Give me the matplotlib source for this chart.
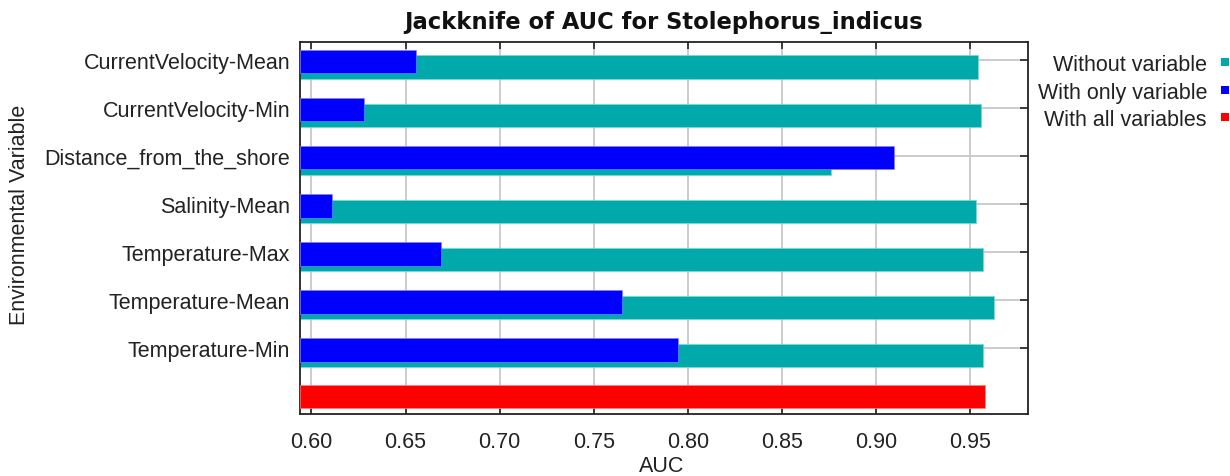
import matplotlib
matplotlib.use("Agg")
import matplotlib.pyplot as plt
from matplotlib.lines import Line2D
import numpy as np

plt.rcParams['font.family'] = ['Liberation Sans', 'DejaVu Sans']

# ---- data ----
variables = ["CurrentVelocity-Mean", "CurrentVelocity-Min", "Distance_from_the_shore",
             "Salinity-Mean", "Temperature-Max", "Temperature-Mean", "Temperature-Min"]
without_variable = [0.9543, 0.9561, 0.8764, 0.9531, 0.9569, 0.9628, 0.9569]
with_only_variable = [0.6555, 0.6280, 0.9097, 0.6108, 0.6688, 0.7653, 0.7947]
with_all_variables = 0.9580
legend_labels = ["Without variable", "With only variable", "With all variables"]
title = "Jackknife of AUC for Stolephorus_indicus"
xticks = [0.60, 0.65, 0.70, 0.75, 0.80, 0.85, 0.90, 0.95]

# ---- style ----
teal = "#00AAAA"
blue = "#0000FF"
red = "#FF0000"
txt = "#222222"
fs = 15.5

fig = plt.figure(figsize=(12.3, 4.77), dpi=100)
ax = fig.add_axes([300/1230, 1 - 415/477, 728/1230, 372/477])

n = len(variables)
pos = np.arange(n)
xmin, xmax = 0.5939, 0.9809

ax.barh(pos + 0.155, np.array(without_variable) - xmin, left=xmin, height=0.485,
        color=teal, edgecolor="#7fd4d4", linewidth=0.5, zorder=2)
ax.barh(pos + 0.04, np.array(with_only_variable) - xmin, left=xmin, height=0.485,
        color=blue, edgecolor="#7f7fff", linewidth=0.5, zorder=3)
ax.barh([n], [with_all_variables - xmin], left=xmin, height=0.47,
        color=red, edgecolor="#ff8080", linewidth=0.5, zorder=3)

ax.set_xlim(xmin, xmax)
ax.set_ylim(n + 0.368, -0.368)

ax.set_xticks(xticks)
ax.set_xticklabels([f"{v:.2f}" for v in xticks], fontsize=fs, color=txt)
ax.set_yticks(pos)
ax.set_yticklabels(variables, fontsize=fs, color=txt)

ax.grid(True, color="#c8c8c8", linewidth=1.3, zorder=0)
ax.set_axisbelow(True)

ax.tick_params(axis='x', direction='in', length=5, width=1.2, top=True, bottom=True,
               pad=12, colors="#222222", labelcolor=txt)
ax.tick_params(axis='y', direction='in', length=6, width=1.2, left=False, right=True,
               pad=7, colors="#222222", labelcolor=txt)

for s in ax.spines.values():
    s.set_linewidth(1.3)
    s.set_color("#222222")

fig.text(662/1230, 1 - 467/477, "AUC", fontsize=fs, color=txt, ha='center', va='center')
fig.text(20/1230, 1 - 215/477, "Environmental Variable", rotation=90, fontsize=fs,
         color=txt, ha='center', va='center')
fig.text(664/1230, 1 - 23/477, title, fontsize=16.3, fontweight='bold', color="#111111",
         ha='center', va='center', family=['DejaVu Sans'])

# legend (text right-aligned, square marker after the text)
legend_colors = [teal, blue, red]
legend_rows_px = [63, 90.5, 118]
for lab, col, ypx in zip(legend_labels, legend_colors, legend_rows_px):
    yf = 1 - ypx / 477
    fig.text(1207/1230, yf, lab, fontsize=fs, color=txt, ha='right', va='center_baseline')
    fig.add_artist(Line2D([1225/1230], [yf], transform=fig.transFigure, linestyle='none',
                          marker='s', markersize=5.2, color=col, markeredgewidth=0))

fig.savefig("out.png", dpi=100)
